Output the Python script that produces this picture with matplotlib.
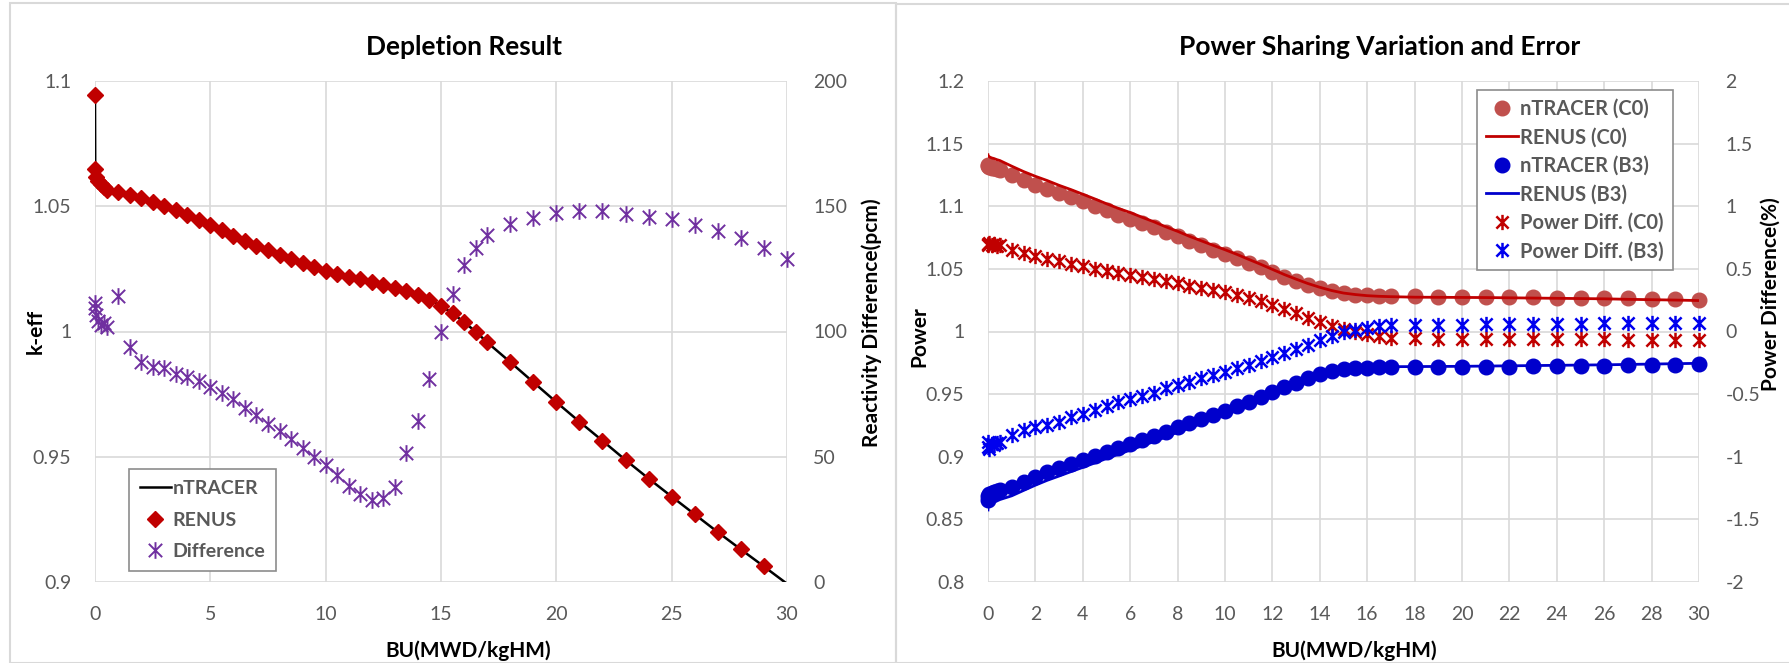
# -*- coding: utf-8 -*-
import numpy as np
import matplotlib
matplotlib.use("Agg")
import matplotlib.pyplot as plt
from matplotlib.path import Path
from matplotlib.patches import Rectangle

plt.rcParams['font.family'] = ['Lato', 'DejaVu Sans']

# burnup grid (MWD/kgHM)
bu = [0, 0.01, 0.05, 0.15, 0.25, 0.375, 0.5, 1, 1.5, 2, 2.5, 3, 3.5, 4, 4.5, 5, 5.5, 6, 6.5, 7,
      7.5, 8, 8.5, 9, 9.5, 10, 10.5, 11, 11.5, 12, 12.5, 13, 13.5, 14, 14.5, 15, 15.5, 16, 16.5,
      17, 18, 19, 20, 21, 22, 23, 24, 25, 26, 27, 28, 29, 30]

# Depletion result
ntracer_keff = [1.0944, 1.0650, 1.0618, 1.0602, 1.0589, 1.0576, 1.0566, 1.0556, 1.0545, 1.0531,
                1.0517, 1.0502, 1.0484, 1.0465, 1.0445, 1.0424, 1.0404, 1.0383, 1.0362, 1.0343,
                1.0325, 1.0306, 1.0288, 1.0272, 1.0256, 1.0241, 1.0229, 1.0218, 1.0208, 1.0197,
                1.0186, 1.0174, 1.0163, 1.0147, 1.0126, 1.0102, 1.0073, 1.0037, 1.0000, 0.9957,
                0.9878, 0.9798, 0.9718, 0.9640, 0.9564, 0.9487, 0.9413, 0.9341, 0.9270, 0.9199,
                0.9130, 0.9062, 0.8993]
renus_keff = ntracer_keff[:-1]
renus_bu = bu[:-1]
diff_pcm = [111.3, 109.3, 106.7, 104.0, 102.5, 103.5, 101.8, 114.3, 93.8, 87.7, 86.0, 85.5, 83.1,
            81.8, 80.3, 77.7, 75.5, 73.0, 69.5, 66.8, 63.2, 60.4, 57.0, 53.6, 49.9, 46.9, 42.7,
            38.4, 35.1, 32.9, 33.7, 38.1, 51.6, 64.4, 81.1, 99.7, 114.8, 126.4, 133.5, 138.7,
            143.1, 145.4, 147.4, 148.0, 148.2, 147.0, 145.9, 144.9, 142.6, 140.2, 137.2, 133.3, 129.1]

# Power sharing
ntracer_c0 = [1.1332, 1.1322, 1.1315, 1.1308, 1.1302, 1.1295, 1.1287, 1.1247, 1.1207, 1.1172,
              1.1140, 1.1105, 1.1073, 1.1039, 1.1004, 1.0967, 1.0932, 1.0900, 1.0865, 1.0831,
              1.0793, 1.0759, 1.0721, 1.0687, 1.0652, 1.0620, 1.0585, 1.0548, 1.0512, 1.0474,
              1.0436, 1.0403, 1.0372, 1.0345, 1.0322, 1.0305, 1.0295, 1.0288, 1.0285, 1.0283,
              1.0280, 1.0279, 1.0278, 1.0277, 1.0275, 1.0273, 1.0271, 1.0269, 1.0267, 1.0264,
              1.0261, 1.0258, 1.0254]
renus_c0 = [1.1411, 1.1400, 1.1395, 1.1386, 1.1381, 1.1372, 1.1365, 1.1320, 1.1277, 1.1239,
            1.1205, 1.1167, 1.1133, 1.1096, 1.1059, 1.1020, 1.0983, 1.0950, 1.0912, 1.0876,
            1.0836, 1.0800, 1.0760, 1.0724, 1.0688, 1.0653, 1.0616, 1.0576, 1.0537, 1.0496,
            1.0455, 1.0418, 1.0383, 1.0353, 1.0327, 1.0307, 1.0295, 1.0286, 1.0281, 1.0278,
            1.0274, 1.0273, 1.0272, 1.0271, 1.0269, 1.0267, 1.0265, 1.0263, 1.0261, 1.0257,
            1.0254, 1.0251, 1.0247]
ntracer_b3 = [0.8655, 0.8690, 0.8700, 0.8708, 0.8715, 0.8725, 0.8735, 0.8761, 0.8801, 0.8841,
              0.8878, 0.8910, 0.8942, 0.8974, 0.9006, 0.9040, 0.9070, 0.9102, 0.9134, 0.9166,
              0.9200, 0.9235, 0.9267, 0.9300, 0.9333, 0.9368, 0.9405, 0.9440, 0.9480, 0.9518,
              0.9555, 0.9592, 0.9630, 0.9662, 0.9685, 0.9700, 0.9707, 0.9711, 0.9713, 0.9714,
              0.9715, 0.9716, 0.9717, 0.9719, 0.9720, 0.9722, 0.9724, 0.9726, 0.9728, 0.9731,
              0.9733, 0.9736, 0.9739]
renus_b3 = [0.8575, 0.8614, 0.8618, 0.8630, 0.8636, 0.8647, 0.8658, 0.8688, 0.8731, 0.8773,
            0.8812, 0.8846, 0.8881, 0.8915, 0.8950, 0.8986, 0.9019, 0.9053, 0.9087, 0.9121,
            0.9158, 0.9196, 0.9230, 0.9265, 0.9301, 0.9338, 0.9378, 0.9415, 0.9458, 0.9498,
            0.9538, 0.9579, 0.9620, 0.9655, 0.9682, 0.9700, 0.9708, 0.9714, 0.9717, 0.9719,
            0.9720, 0.9721, 0.9722, 0.9724, 0.9726, 0.9728, 0.9730, 0.9732, 0.9734, 0.9737,
            0.9740, 0.9743, 0.9746]
pdiff_c0 = [0.70, 0.69, 0.71, 0.69, 0.70, 0.68, 0.69, 0.65, 0.625, 0.60, 0.58, 0.56, 0.54, 0.52,
            0.50, 0.485, 0.47, 0.455, 0.435, 0.42, 0.40, 0.385, 0.365, 0.35, 0.335, 0.315, 0.29,
            0.265, 0.24, 0.21, 0.18, 0.145, 0.11, 0.075, 0.045, 0.02, 0.0, -0.02, -0.035, -0.05,
            -0.055, -0.056, -0.057, -0.058, -0.059, -0.06, -0.061, -0.062, -0.063, -0.064,
            -0.065, -0.066, -0.067]
pdiff_b3 = [-0.92, -0.88, -0.94, -0.90, -0.91, -0.89, -0.88, -0.83, -0.79, -0.765, -0.745, -0.72,
            -0.685, -0.655, -0.625, -0.595, -0.565, -0.54, -0.515, -0.49, -0.455, -0.425, -0.40,
            -0.375, -0.345, -0.32, -0.29, -0.265, -0.235, -0.205, -0.175, -0.14, -0.105, -0.07,
            -0.035, -0.005, 0.01, 0.03, 0.04, 0.048, 0.052, 0.053, 0.054, 0.056, 0.057, 0.059,
            0.06, 0.062, 0.064, 0.066, 0.067, 0.069, 0.07]

W, H = 1789, 663
TICK_C = '#595959'
GRID_C = '#D9D9D9'

# excel style star: x with a vertical bar
star = Path([(-1, -1), (1, 1), (-1, 1), (1, -1), (0, -1.25), (0, 1.25)],
            [Path.MOVETO, Path.LINETO, Path.MOVETO, Path.LINETO, Path.MOVETO, Path.LINETO])


def style_axes(ax, twin):
    for s in ax.spines.values():
        s.set_visible(False)
    for a in (ax, twin):
        a.tick_params(length=0, pad=17, labelsize=14, labelcolor=TICK_C)
    twin.tick_params(pad=19)
    ax.grid(True, color=GRID_C, lw=1.2)
    ax.set_axisbelow(True)
    for s in twin.spines.values():
        s.set_visible(False)


fig = plt.figure(figsize=(W / 100, H / 100), dpi=100)

# panel frames
fig.patches.append(Rectangle((10 / W, 0), 886 / W, 1 - 3 / H, transform=fig.transFigure,
                             fill=False, ec=GRID_C, lw=1.5))
fig.patches.append(Rectangle((896 / W, 0), 900 / W, 1 - 4 / H, transform=fig.transFigure,
                             fill=False, ec=GRID_C, lw=1.5))

# ---------------- left: depletion ----------------
ax1 = fig.add_axes([95 / W, 81 / H, 692 / W, 501 / H])
ax1b = ax1.twinx()
style_axes(ax1, ax1b)

h1, = ax1.plot(bu, ntracer_keff, color='black', lw=1.8, zorder=2)
h2, = ax1.plot(renus_bu, renus_keff, ls='none', marker='D', ms=8.5, color='#C00000',
               clip_on=False, zorder=3)
h3, = ax1b.plot(bu, diff_pcm, ls='none', marker=star, ms=12, mew=1.4, color='#7030A0',
                mfc='none', clip_on=False)

ax1.set_xlim(0, 30)
ax1.set_ylim(0.9, 1.1)
ax1.set_xticks(range(0, 31, 5))
ax1.set_yticks([0.9, 0.95, 1.0, 1.05, 1.1])
ax1.set_yticklabels(['0.9', '0.95', '1', '1.05', '1.1'])
ax1b.set_ylim(0, 200)
ax1b.set_yticks(range(0, 201, 50))

ax1.set_title('Depletion Result', fontsize=19, fontweight='bold', x=0.533, y=1.035)
ax1.set_xlabel('BU(MWD/kgHM)', fontsize=15, fontweight='bold')
ax1.xaxis.set_label_coords(0.539, -0.117)
ax1.set_ylabel('k-eff', fontsize=15, fontweight='bold')
ax1.yaxis.set_label_coords(-0.071, 0.5)
ax1b.set_ylabel('Reactivity Difference(pcm)', fontsize=15, fontweight='bold')
ax1b.yaxis.set_label_coords(1.107, 0.517)

leg1 = ax1b.legend([h1, h2, h3], ['nTRACER', 'RENUS', 'Difference'], loc='lower left',
                   bbox_to_anchor=(0.049, 0.022), borderaxespad=0, fancybox=False,
                   edgecolor='#8C8C8C', prop={'size': 14, 'weight': 'bold'}, labelcolor=TICK_C,
                   handlelength=1.6, handletextpad=0.1, labelspacing=0.75, borderpad=0.55,
                   framealpha=1)
leg1.get_frame().set_linewidth(1.2)

# ---------------- right: power sharing ----------------
ax2 = fig.add_axes([988 / W, 81 / H, 711 / W, 501 / H])
ax2b = ax2.twinx()
style_axes(ax2, ax2b)

g1, = ax2.plot(bu, ntracer_c0, ls='none', marker='o', ms=10.5, color='#C0504D', clip_on=False)
g2, = ax2.plot(bu, renus_c0, color='#C00000', lw=2)
g3, = ax2.plot(bu, ntracer_b3, ls='none', marker='o', ms=10.5, color='#0000CC', clip_on=False)
g4, = ax2.plot(bu, renus_b3, color='#0000CC', lw=2)
g5, = ax2b.plot(bu, pdiff_c0, ls='none', marker=star, ms=11, mew=1.8, color='#C00000',
                mfc='none', clip_on=False)
g6, = ax2b.plot(bu, pdiff_b3, ls='none', marker=star, ms=11, mew=1.8, color='#0000EE',
                mfc='none', clip_on=False)

ax2.set_xlim(0, 30)
ax2.set_ylim(0.8, 1.2)
ax2.set_xticks(range(0, 31, 2))
ax2.set_yticks([0.8, 0.85, 0.9, 0.95, 1.0, 1.05, 1.1, 1.15, 1.2])
ax2.set_yticklabels(['0.8', '0.85', '0.9', '0.95', '1', '1.05', '1.1', '1.15', '1.2'])
ax2b.set_ylim(-2, 2)
ax2b.set_yticks([-2, -1.5, -1, -0.5, 0, 0.5, 1, 1.5, 2])
ax2b.set_yticklabels(['-2', '-1.5', '-1', '-0.5', '0', '0.5', '1', '1.5', '2'])

ax2.set_title('Power Sharing Variation and Error', fontsize=19, fontweight='bold', x=0.551, y=1.035)
ax2.set_xlabel('BU(MWD/kgHM)', fontsize=15, fontweight='bold')
ax2.xaxis.set_label_coords(0.515, -0.117)
ax2.set_ylabel('Power', fontsize=15, fontweight='bold')
ax2.yaxis.set_label_coords(-0.082, 0.49)
ax2b.set_ylabel('Power Difference(%)', fontsize=15, fontweight='bold')
ax2b.yaxis.set_label_coords(1.087, 0.575)

leg2 = ax2b.legend([g1, g2, g3, g4, g5, g6],
                   ['nTRACER (C0)', 'RENUS (C0)', 'nTRACER (B3)', 'RENUS (B3)',
                    'Power Diff. (C0)', 'Power Diff. (B3)'],
                   loc='upper right', bbox_to_anchor=(0.9634, 0.982), borderaxespad=0,
                   fancybox=False, edgecolor='#8C8C8C', prop={'size': 14.5, 'weight': 'bold'},
                   labelcolor=TICK_C, handlelength=1.6, handletextpad=0.1, labelspacing=0.42,
                   borderpad=0.45, framealpha=1)
leg2.get_frame().set_linewidth(1.2)

fig.savefig('out.png', dpi=100, facecolor='white')
